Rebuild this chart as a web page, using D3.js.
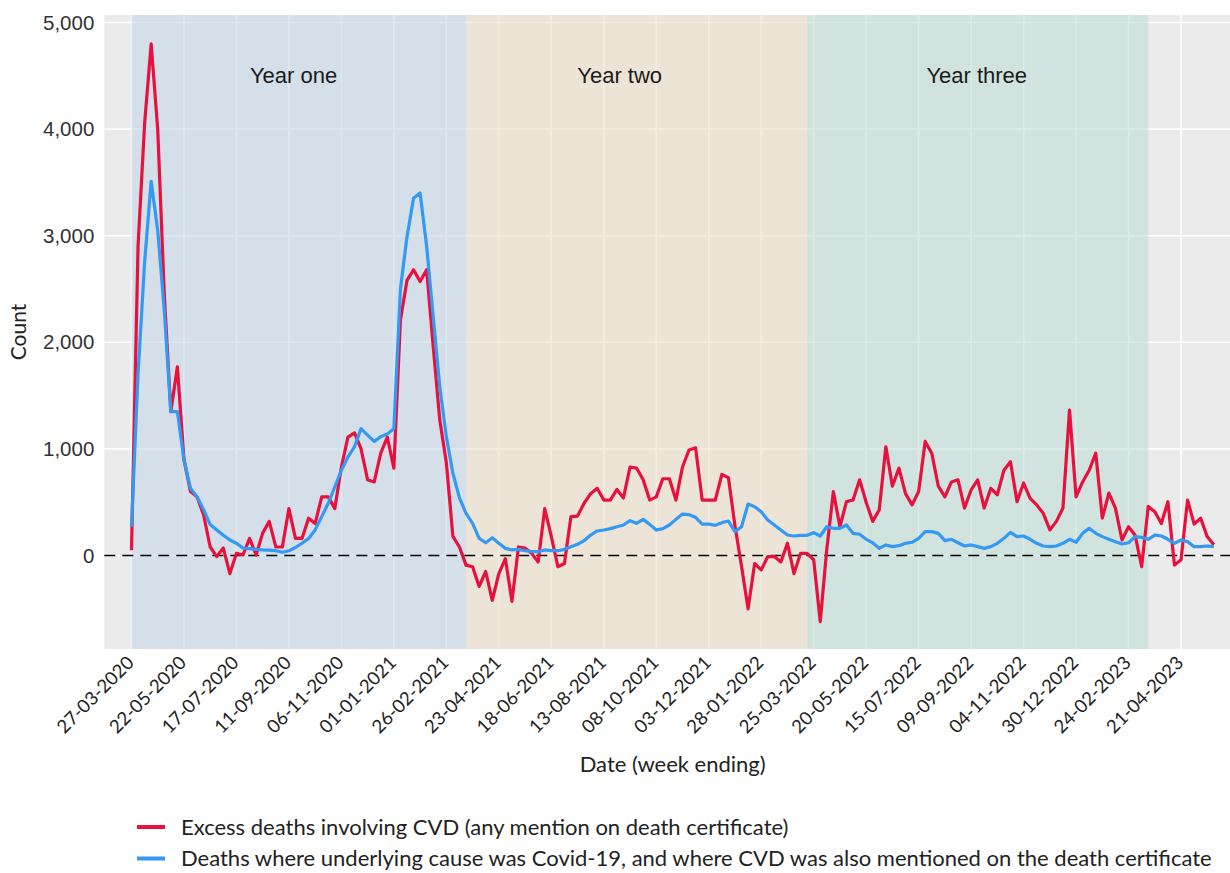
<!DOCTYPE html>
<html lang="en">
<head>
<meta charset="UTF-8">
<title>Excess deaths involving CVD</title>
<script src="https://cdn.jsdelivr.net/npm/d3@7"></script>
<style>
  body { margin: 0; background: #fff; }
</style>
</head>
<body>
<svg id="chart" width="1230" height="873"></svg>
<script>
// weekly data, week ending 27-03-2020 onwards
const firstWeek = "27-03-2020";

const excessCVD = [
  50, 2900, 4050, 4800, 4000, 2450, 1350, 1770, 900, 600,
  550, 380, 80, -10, 70, -170, 20, 5, 160, 5,
  210, 320, 80, 80, 440, 160, 160, 350, 300, 550,
  550, 440, 830, 1110, 1150, 1000, 710, 690, 960, 1110,
  820, 2210, 2580, 2680, 2570, 2680, 1960, 1270, 870, 180,
  80, -90, -105, -290, -150, -420, -170, -30, -430, 80,
  70, 20, -60, 440, 180, -105, -75, 365, 370, 490,
  580, 630, 520, 520, 620, 540, 830, 820, 710, 520,
  550, 720, 720, 520, 830, 990, 1010, 520, 520, 520,
  760, 730, 280, -100, -500, -75, -135, -10, -10, -60,
  115, -170, 20, 20, -40, -620, 60, 600, 270, 505,
  520, 710, 500, 320, 430, 1020, 650, 820, 580, 475,
  600, 1070, 960, 650, 550, 690, 710, 445, 615, 710,
  445, 630, 570, 800, 880, 505, 680, 535, 475, 395,
  240, 320, 445, 1365, 550, 690, 800, 960, 350, 585,
  445, 145, 270, 190, -105, 460, 410, 300, 505, -90,
  -40, 520, 295, 350, 175, 100
];

const covidWithCVD = [
  270, 1700, 2750, 3510, 3050, 2300, 1350, 1350, 900, 630,
  550, 430, 290, 240, 190, 145, 115, 70, 65, 58,
  52, 50, 45, 30, 45, 75, 115, 160, 240, 365,
  490, 645, 800, 925, 1020, 1190, 1130, 1070, 1115, 1140,
  1190, 2500, 2990, 3350, 3400, 2900, 2240, 1580, 1115, 770,
  540, 396, 302, 161, 120, 167, 114, 67, 52, 58,
  45, 36, 36, 52, 45, 45, 58, 83, 105, 139,
  192, 230, 239, 252, 270, 286, 327, 302, 339, 292,
  239, 252, 286, 339, 389, 383, 358, 295, 295, 283,
  308, 323, 224, 270, 483, 458, 411, 333, 286, 239,
  192, 183, 189, 189, 214, 183, 270, 255, 255, 286,
  208, 199, 152, 120, 67, 99, 83, 92, 114, 124,
  161, 224, 224, 208, 139, 152, 120, 89, 99, 83,
  67, 83, 114, 161, 217, 177, 183, 152, 114, 89,
  83, 89, 114, 152, 124, 208, 255, 208, 177, 152,
  130, 108, 120, 177, 170, 152, 192, 183, 152, 114,
  145, 130, 83, 83, 89, 83
];

const tickLabels = [
  "27-03-2020", "22-05-2020", "17-07-2020", "11-09-2020", "06-11-2020",
  "01-01-2021", "26-02-2021", "23-04-2021", "18-06-2021", "13-08-2021",
  "08-10-2021", "03-12-2021", "28-01-2022", "25-03-2022", "20-05-2022",
  "15-07-2022", "09-09-2022", "04-11-2022", "30-12-2022", "24-02-2023",
  "21-04-2023"
];

const yTicks = [0, 1000, 2000, 3000, 4000, 5000];

const yearNames = ["Year one", "Year two", "Year three"];
const yearStarts = ["27-03-2020", "19-03-2021", "18-03-2022", "17-03-2023"];
const yearLabelDates = ["16-09-2020", "30-08-2021", "15-09-2022"];
const yearColours = ["#c1d5e9", "#ede0c7", "#bbddd3"];

const seriesNames = [
  "Excess deaths involving CVD (any mention on death certificate)",
  "Deaths where underlying cause was Covid-19, and where CVD was also mentioned on the death certificate"
];
const seriesColours = ["#e8103c", "#3399f3"];

const parse = d3.utcParse("%d-%m-%Y");
const start = parse(firstWeek);
const weeks = excessCVD.map((d, i) => d3.utcDay.offset(start, 7 * i));

const plotLeft = 104.3, plotRight = 1241, plotTop = 15, plotBottom = 649;

const svg = d3.select("#chart");

const x = d3.scaleUtc()
  .domain([d3.utcDay.offset(weeks[0], -29), d3.utcDay.offset(weeks[weeks.length - 1], 29)])
  .range([plotLeft, plotRight]);

const y = d3.scaleLinear()
  .domain([-877, 5070])
  .range([plotBottom, plotTop]);

// panel
svg.append("rect")
  .attr("x", plotLeft).attr("y", plotTop)
  .attr("width", plotRight - plotLeft).attr("height", plotBottom - plotTop)
  .attr("fill", "#ebebeb");

// grid
svg.append("g")
  .selectAll("line")
  .data(yTicks)
  .join("line")
  .attr("x1", plotLeft).attr("x2", plotRight)
  .attr("y1", d => y(d)).attr("y2", d => y(d))
  .attr("stroke", "#fff").attr("stroke-width", 1.6);

const tickDates = tickLabels.map(parse);

svg.append("g")
  .selectAll("line")
  .data(tickDates)
  .join("line")
  .attr("x1", d => x(d)).attr("x2", d => x(d))
  .attr("y1", plotTop).attr("y2", plotBottom)
  .attr("stroke", "#fff").attr("stroke-width", 1.6);

// year bands
svg.append("g")
  .selectAll("rect")
  .data(yearNames)
  .join("rect")
  .attr("x", (d, i) => x(parse(yearStarts[i])))
  .attr("width", (d, i) => x(parse(yearStarts[i + 1])) - x(parse(yearStarts[i])))
  .attr("y", plotTop).attr("height", plotBottom - plotTop)
  .attr("fill", (d, i) => yearColours[i])
  .attr("opacity", 0.55);

svg.append("g")
  .selectAll("text")
  .data(yearNames)
  .join("text")
  .attr("x", (d, i) => x(parse(yearLabelDates[i])))
  .attr("y", 83)
  .attr("text-anchor", "middle")
  .attr("font-family", "Liberation Sans, Arial, sans-serif")
  .attr("font-size", 22)
  .attr("fill", "#1a1a1a")
  .text(d => d);

// zero line
svg.append("line")
  .attr("x1", plotLeft).attr("x2", plotRight)
  .attr("y1", y(0)).attr("y2", y(0))
  .attr("stroke", "#000")
  .attr("stroke-width", 1.5)
  .attr("stroke-dasharray", "11,7");

// lines
const line = d3.line()
  .x((d, i) => x(weeks[i]))
  .y(d => y(d));

[excessCVD, covidWithCVD].forEach((s, i) => {
  svg.append("path")
    .datum(s)
    .attr("d", line)
    .attr("fill", "none")
    .attr("stroke", seriesColours[i])
    .attr("stroke-width", 3.2)
    .attr("stroke-linejoin", "round");
});

// y axis
const yAxis = svg.append("g")
  .attr("transform", `translate(${plotLeft},0)`)
  .call(d3.axisLeft(y).tickValues(yTicks).tickFormat(d3.format(",")).tickSize(0).tickPadding(10));
yAxis.select(".domain").remove();
yAxis.selectAll("text")
  .attr("font-family", "Liberation Sans, Arial, sans-serif")
  .attr("font-size", 20.5)
  .attr("fill", "#333");

// x axis
const xAxis = svg.append("g")
  .attr("transform", `translate(0,${plotBottom})`)
  .call(d3.axisBottom(x).tickValues(tickDates).tickFormat(d3.utcFormat("%d-%m-%Y")).tickSize(0));
xAxis.select(".domain").remove();
xAxis.selectAll("text")
  .attr("font-family", "Lato, sans-serif")
  .attr("font-size", 18.5)
  .attr("fill", "#222")
  .attr("text-anchor", "end")
  .attr("dy", null)
  .attr("y", 0)
  .attr("transform", "translate(3,15) rotate(-45)");

// axis titles
svg.append("text")
  .attr("x", (plotLeft + plotRight) / 2)
  .attr("y", 772)
  .attr("text-anchor", "middle")
  .attr("font-family", "Lato, sans-serif")
  .attr("font-size", 22)
  .attr("fill", "#222")
  .text("Date (week ending)");

svg.append("text")
  .attr("transform", `translate(26,${(plotTop + plotBottom) / 2}) rotate(-90)`)
  .attr("text-anchor", "middle")
  .attr("font-family", "Lato, sans-serif")
  .attr("font-size", 21)
  .attr("fill", "#222")
  .text("Count");

// legend
const legend = svg.append("g")
  .selectAll("g")
  .data(seriesNames)
  .join("g")
  .attr("transform", (d, i) => `translate(137,${827 + i * 31.5})`);

legend.append("line")
  .attr("x1", 0).attr("x2", 28)
  .attr("stroke", (d, i) => seriesColours[i])
  .attr("stroke-width", 4);

legend.append("text")
  .attr("x", 44)
  .attr("dy", "0.35em")
  .attr("font-family", "Lato, sans-serif")
  .attr("font-size", 22)
  .attr("fill", "#222")
  .text(d => d);
</script>
</body>
</html>
